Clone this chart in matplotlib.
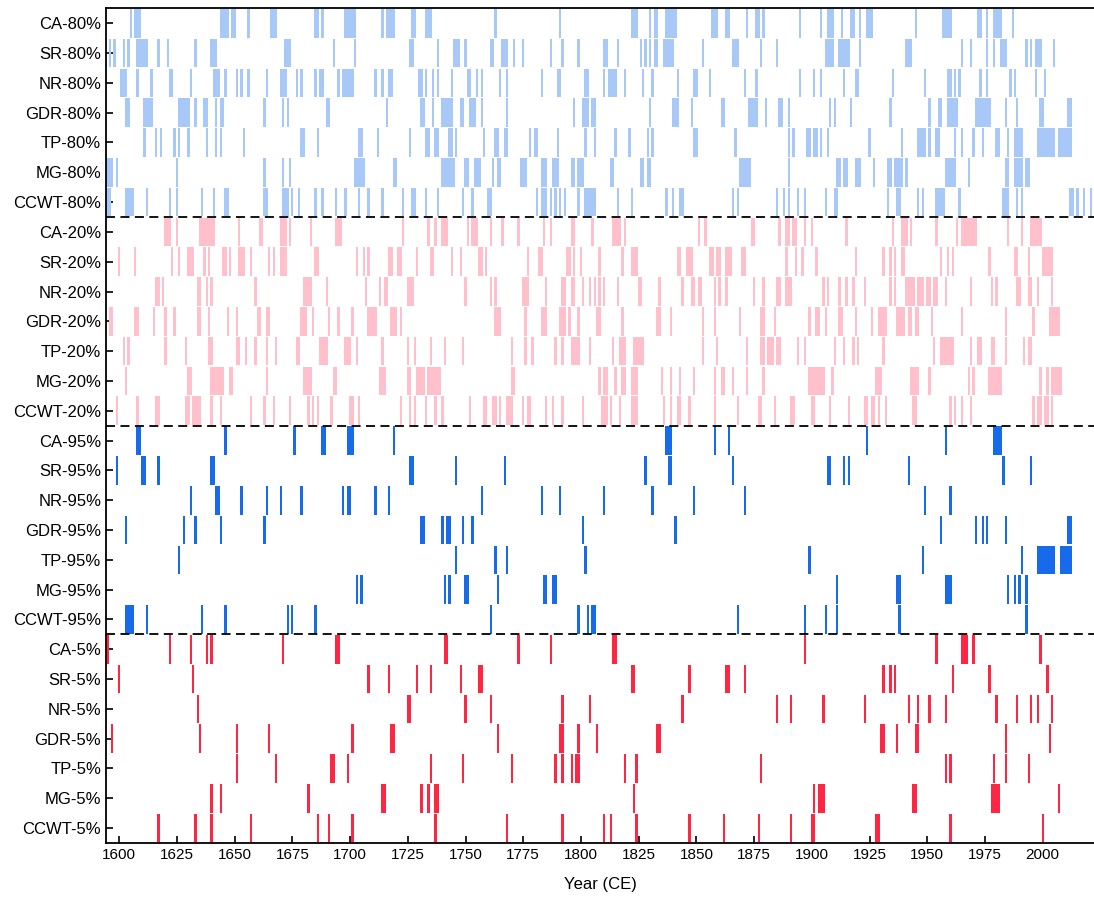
#!/usr/bin/env python3
"""Years falling in the 80th / 20th / 95th / 5th percentile classes for each series."""

import matplotlib
matplotlib.use("Agg")
import matplotlib.pyplot as plt

plt.rcParams["font.family"] = ["Liberation Sans", "DejaVu Sans"]

# ---- 80% ----
ca_80 = [1605, 1607, 1608, 1609, 1644, 1645, 1646, 1647, 1649, 1650, 1656, 1666, 1667, 1668,
         1685, 1686, 1688, 1698, 1699, 1700, 1701, 1702, 1714, 1716, 1717, 1718, 1719, 1727, 1728,
         1733, 1734, 1735, 1763, 1791, 1822, 1823, 1824, 1830, 1832, 1833, 1837, 1838, 1839, 1840,
         1841, 1857, 1858, 1859, 1863, 1864, 1872, 1876, 1877, 1879, 1895, 1904, 1907, 1908, 1909,
         1913, 1917, 1918, 1921, 1924, 1925, 1926, 1945, 1957, 1958, 1959, 1960, 1972, 1973, 1976,
         1979, 1980, 1981, 1982, 1987]
sr_80 = [1596, 1598, 1602, 1604, 1608, 1609, 1610, 1611, 1612, 1617, 1621, 1633, 1640, 1641, 1642,
         1672, 1673, 1674, 1693, 1702, 1726, 1727, 1738, 1745, 1746, 1747, 1750, 1761, 1762, 1766,
         1767, 1768, 1771, 1775, 1787, 1792, 1799, 1810, 1811, 1816, 1826, 1828, 1830, 1832, 1833,
         1836, 1837, 1838, 1839, 1840, 1853, 1866, 1867, 1868, 1878, 1885, 1906, 1907, 1908, 1909,
         1912, 1913, 1914, 1915, 1916, 1921, 1941, 1942, 1943, 1965, 1969, 1976, 1979, 1982, 1983,
         1984, 1993, 1995, 1997, 1998, 1999, 2005]
nr_80 = [1601, 1602, 1603, 1608, 1614, 1622, 1623, 1631, 1641, 1642, 1643, 1646, 1651, 1653, 1656,
         1664, 1670, 1671, 1672, 1677, 1679, 1685, 1687, 1688, 1695, 1697, 1698, 1699, 1700, 1701,
         1711, 1714, 1717, 1718, 1730, 1731, 1733, 1736, 1738, 1744, 1751, 1752, 1755, 1757, 1765,
         1768, 1783, 1790, 1791, 1802, 1803, 1810, 1812, 1813, 1814, 1815, 1819, 1827, 1831, 1842,
         1849, 1850, 1856, 1871, 1876, 1895, 1901, 1904, 1914, 1919, 1920, 1935, 1949, 1959, 1960,
         1962, 1964, 1973, 1976, 1986, 1988, 1997, 2001]
gdr_80 = [1603, 1604, 1611, 1612, 1613, 1614, 1626, 1627, 1628, 1629, 1630, 1633, 1637, 1638, 1642,
          1644, 1645, 1663, 1671, 1673, 1690, 1691, 1716, 1731, 1732, 1736, 1740, 1741, 1742, 1743,
          1744, 1748, 1749, 1752, 1753, 1754, 1757, 1768, 1797, 1801, 1802, 1803, 1805, 1806, 1830,
          1840, 1841, 1842, 1848, 1861, 1862, 1873, 1874, 1875, 1876, 1880, 1886, 1887, 1890, 1908,
          1910, 1917, 1934, 1951, 1955, 1956, 1959, 1960, 1961, 1962, 1963, 1971, 1972, 1973, 1974,
          1975, 1976, 1977, 1984, 1989, 1999, 2000, 2011, 2012]
tp_80 = [1611, 1616, 1618, 1624, 1626, 1630, 1638, 1642, 1644, 1654, 1679, 1680, 1686, 1704, 1705,
         1712, 1726, 1733, 1734, 1737, 1738, 1743, 1744, 1746, 1758, 1763, 1764, 1767, 1768, 1778,
         1780, 1781, 1790, 1802, 1806, 1815, 1821, 1829, 1831, 1849, 1850, 1867, 1890, 1892, 1898,
         1899, 1901, 1902, 1904, 1907, 1925, 1939, 1946, 1947, 1948, 1949, 1951, 1954, 1955, 1962,
         1965, 1970, 1974, 1980, 1981, 1985, 1988, 1989, 1990, 1991, 1998, 1999, 2000, 2001, 2002,
         2003, 2004, 2005, 2007, 2008, 2009, 2010, 2011, 2012]
mg_80 = [1595, 1596, 1597, 1599, 1625, 1663, 1671, 1674, 1702, 1703, 1704, 1705, 1706, 1719, 1720,
         1740, 1741, 1742, 1743, 1744, 1745, 1750, 1751, 1754, 1755, 1756, 1762, 1764, 1765, 1774,
         1775, 1776, 1783, 1784, 1785, 1788, 1789, 1790, 1796, 1797, 1799, 1800, 1801, 1813, 1814,
         1826, 1827, 1829, 1830, 1869, 1870, 1871, 1872, 1873, 1890, 1911, 1912, 1914, 1915, 1919,
         1920, 1921, 1927, 1933, 1934, 1936, 1937, 1938, 1939, 1941, 1958, 1959, 1960, 1961, 1962,
         1968, 1984, 1985, 1988, 1989, 1990, 1991, 1993, 1994]
ccwt_80 = [1595, 1596, 1603, 1604, 1605, 1606, 1612, 1622, 1625, 1636, 1641, 1646, 1647, 1663, 1664,
           1671, 1672, 1673, 1675, 1678, 1685, 1688, 1694, 1698, 1704, 1708, 1714, 1723, 1727, 1728,
           1733, 1738, 1749, 1753, 1760, 1761, 1781, 1783, 1784, 1785, 1787, 1789, 1791, 1793, 1799,
           1802, 1803, 1804, 1805, 1806, 1816, 1822, 1837, 1840, 1843, 1844, 1866, 1868, 1885, 1888,
           1890, 1894, 1897, 1906, 1910, 1911, 1933, 1937, 1938, 1946, 1948, 1954, 1955, 1956, 1957,
           1964, 1983, 1984, 1985, 1989, 1991, 2012, 2013, 2015, 2018, 2021]

# ---- 20% ----
ca_20 = [1620, 1621, 1622, 1625, 1635, 1636, 1637, 1638, 1639, 1640, 1641, 1652, 1661, 1662, 1670,
         1671, 1672, 1674, 1683, 1694, 1695, 1696, 1723, 1734, 1737, 1740, 1741, 1742, 1751, 1753,
         1754, 1755, 1761, 1766, 1773, 1784, 1787, 1796, 1797, 1805, 1814, 1815, 1816, 1817, 1819,
         1851, 1854, 1874, 1875, 1886, 1889, 1890, 1892, 1893, 1897, 1900, 1915, 1935, 1939, 1940,
         1941, 1943, 1954, 1963, 1965, 1966, 1967, 1968, 1969, 1970, 1971, 1985, 1991, 1995, 1996,
         1997, 1998, 1999]
sr_20 = [1600, 1607, 1623, 1626, 1630, 1631, 1632, 1637, 1639, 1645, 1646, 1648, 1652, 1653, 1654,
         1657, 1665, 1667, 1670, 1671, 1672, 1685, 1686, 1703, 1706, 1708, 1717, 1718, 1721, 1722,
         1729, 1735, 1736, 1744, 1748, 1756, 1757, 1759, 1777, 1782, 1783, 1794, 1795, 1797, 1800,
         1808, 1818, 1822, 1823, 1824, 1842, 1843, 1846, 1847, 1848, 1856, 1857, 1859, 1860, 1863,
         1864, 1865, 1870, 1871, 1889, 1893, 1896, 1902, 1919, 1931, 1934, 1936, 1939, 1940, 1956,
         1959, 1961, 1977, 1988, 1989, 1994, 2000, 2001, 2002, 2003, 2004]
nr_20 = [1616, 1617, 1619, 1634, 1635, 1638, 1640, 1659, 1680, 1681, 1682, 1683, 1690, 1707, 1713,
         1715, 1716, 1725, 1726, 1727, 1750, 1761, 1763, 1775, 1776, 1777, 1785, 1792, 1793, 1796,
         1797, 1801, 1804, 1806, 1808, 1810, 1816, 1825, 1826, 1834, 1844, 1848, 1849, 1851, 1852,
         1858, 1860, 1863, 1875, 1879, 1885, 1886, 1889, 1890, 1891, 1905, 1907, 1912, 1915, 1918,
         1923, 1934, 1936, 1941, 1942, 1943, 1944, 1946, 1947, 1948, 1950, 1951, 1953, 1954, 1958,
         1969, 1978, 1980, 1989, 1990, 1994, 1995, 1998, 2004]
gdr_20 = [1596, 1597, 1607, 1608, 1615, 1620, 1624, 1634, 1635, 1639, 1647, 1651, 1660, 1661, 1664,
          1665, 1679, 1680, 1681, 1684, 1691, 1695, 1701, 1708, 1709, 1710, 1711, 1718, 1719, 1720,
          1722, 1763, 1764, 1765, 1776, 1783, 1784, 1785, 1791, 1792, 1793, 1795, 1799, 1807, 1808,
          1818, 1833, 1834, 1839, 1853, 1858, 1869, 1878, 1879, 1884, 1899, 1902, 1903, 1906, 1912,
          1913, 1919, 1926, 1929, 1930, 1931, 1932, 1937, 1938, 1939, 1940, 1942, 1943, 1945, 1946,
          1952, 1965, 1984, 1996, 2003, 2004, 2005, 2006, 2007]
tp_20 = [1602, 1604, 1620, 1629, 1639, 1640, 1651, 1652, 1655, 1659, 1664, 1668, 1677, 1678, 1687,
         1688, 1689, 1690, 1698, 1699, 1700, 1703, 1714, 1725, 1728, 1735, 1741, 1749, 1770, 1776,
         1779, 1789, 1792, 1796, 1797, 1798, 1799, 1804, 1814, 1817, 1818, 1819, 1823, 1824, 1825,
         1826, 1827, 1853, 1859, 1872, 1878, 1879, 1881, 1882, 1883, 1885, 1886, 1894, 1897, 1910,
         1914, 1918, 1920, 1931, 1953, 1956, 1957, 1958, 1959, 1960, 1961, 1969, 1972, 1973, 1978,
         1979, 1984, 1992, 1994, 1995]
mg_20 = [1603, 1630, 1631, 1640, 1641, 1642, 1643, 1644, 1645, 1648, 1649, 1664, 1680, 1681, 1682,
         1683, 1693, 1694, 1713, 1714, 1715, 1725, 1726, 1729, 1730, 1731, 1732, 1734, 1735, 1736,
         1737, 1738, 1739, 1770, 1771, 1808, 1810, 1811, 1815, 1818, 1819, 1822, 1823, 1824, 1835,
         1839, 1843, 1849, 1858, 1861, 1862, 1866, 1872, 1879, 1899, 1900, 1901, 1902, 1903, 1904,
         1905, 1909, 1928, 1929, 1930, 1943, 1944, 1945, 1946, 1951, 1968, 1970, 1977, 1978, 1979,
         1980, 1981, 1982, 1999, 2002, 2004, 2005, 2006, 2007, 2008]
ccwt_20 = [1599, 1608, 1616, 1617, 1629, 1630, 1632, 1633, 1634, 1635, 1640, 1644, 1657, 1663, 1667,
           1674, 1682, 1684, 1686, 1692, 1700, 1701, 1704, 1722, 1726, 1728, 1733, 1737, 1740, 1752,
           1758, 1759, 1762, 1763, 1765, 1768, 1769, 1770, 1775, 1777, 1778, 1785, 1788, 1792, 1801,
           1809, 1810, 1811, 1813, 1817, 1822, 1823, 1824, 1836, 1839, 1842, 1843, 1847, 1858, 1868,
           1877, 1878, 1884, 1891, 1892, 1900, 1901, 1908, 1916, 1923, 1924, 1926, 1927, 1929, 1932,
           1944, 1945, 1960, 1962, 1965, 1969, 1996, 1998, 1999, 2001, 2002, 2004]

# ---- 95% ----
ca_95 = [1608, 1609, 1646, 1676, 1688, 1689, 1699, 1700, 1701, 1719, 1837, 1838, 1839, 1858, 1864,
         1924, 1958, 1979, 1980, 1981, 1982]
sr_95 = [1599, 1610, 1611, 1617, 1640, 1641, 1726, 1727, 1746, 1767, 1828, 1838, 1839, 1866, 1907,
         1908, 1914, 1916, 1942, 1983, 1995]
nr_95 = [1631, 1642, 1643, 1653, 1664, 1670, 1679, 1697, 1699, 1700, 1711, 1717, 1757, 1783, 1791,
         1810, 1831, 1849, 1871, 1949, 1960]
gdr_95 = [1603, 1628, 1633, 1644, 1663, 1731, 1732, 1740, 1742, 1743, 1749, 1753, 1801, 1841, 1956,
          1971, 1974, 1976, 1984, 2011, 2012]
tp_95 = [1626, 1746, 1763, 1768, 1802, 1899, 1948, 1991, 1998, 1999, 2000, 2001, 2002, 2003, 2004,
         2005, 2008, 2009, 2010, 2011, 2012]
mg_95 = [1703, 1705, 1741, 1743, 1750, 1751, 1764, 1784, 1785, 1788, 1789, 1911, 1937, 1938, 1958,
         1959, 1960, 1985, 1988, 1990, 1993]
ccwt_95 = [1603, 1604, 1605, 1606, 1612, 1636, 1646, 1673, 1675, 1685, 1761, 1799, 1803, 1805, 1806,
           1868, 1897, 1906, 1911, 1938, 1993]

# ---- 5% ----
ca_5 = [1595, 1622, 1631, 1638, 1640, 1671, 1694, 1695, 1741, 1742, 1773, 1787, 1814, 1815, 1897,
        1954, 1965, 1966, 1967, 1970, 1999]
sr_5 = [1600, 1632, 1708, 1717, 1729, 1735, 1748, 1756, 1757, 1822, 1823, 1847, 1863, 1864, 1871,
        1931, 1934, 1936, 1961, 1977, 2002]
nr_5 = [1634, 1725, 1726, 1750, 1761, 1792, 1804, 1844, 1885, 1891, 1905, 1923, 1942, 1946, 1951,
        1958, 1980, 1989, 1995, 1998, 2004]
gdr_5 = [1597, 1635, 1651, 1665, 1701, 1718, 1719, 1764, 1791, 1792, 1799, 1807, 1833, 1834, 1930,
         1931, 1937, 1945, 1946, 1984, 2003]
tp_5 = [1651, 1668, 1692, 1693, 1699, 1735, 1749, 1770, 1789, 1792, 1796, 1798, 1799, 1819, 1824,
        1878, 1958, 1960, 1979, 1984, 1994]
mg_5 = [1640, 1644, 1682, 1714, 1715, 1731, 1734, 1737, 1738, 1823, 1901, 1903, 1904, 1905, 1944,
        1945, 1978, 1979, 1980, 1981, 2007]
ccwt_5 = [1617, 1633, 1640, 1657, 1686, 1691, 1701, 1737, 1768, 1792, 1810, 1813, 1824, 1847, 1862,
          1877, 1891, 1900, 1901, 1928, 1929, 1960, 2000]

series = ["CA", "SR", "NR", "GDR", "TP", "MG", "CCWT"]
levels = ["80%", "20%", "95%", "5%"]
level_colors = ["#a8c8f8", "#ffc0cb", "#176bea", "#ff2644"]
rows = [
    [ca_80, sr_80, nr_80, gdr_80, tp_80, mg_80, ccwt_80],
    [ca_20, sr_20, nr_20, gdr_20, tp_20, mg_20, ccwt_20],
    [ca_95, sr_95, nr_95, gdr_95, tp_95, mg_95, ccwt_95],
    [ca_5, sr_5, nr_5, gdr_5, tp_5, mg_5, ccwt_5],
]

fig = plt.figure(figsize=(10.94, 8.97), dpi=100)
ax = fig.add_axes([0.0969, 0.0602, 0.9031, 0.9305])

labels = []
i = 0
for lev, color, group in zip(levels, level_colors, rows):
    for name, years in zip(series, group):
        ax.bar(years, 0.96, bottom=i - 0.48, width=1.0, color=color,
               linewidth=0, align="center", zorder=2)
        labels.append(f"{name}-{lev}")
        i += 1

# group separators
for y in (6.5, 13.5, 20.5):
    ax.axhline(y, color="black", linewidth=1.3, linestyle=(0, (5, 3)), zorder=3)

ax.set_ylim(27.5, -0.5)
ax.set_xlim(1594.3, 2022.2)
ax.set_yticks(range(len(labels)))
ax.set_yticklabels(labels, fontsize=12)
ax.set_xticks(range(1600, 2001, 25))
ax.tick_params(axis="x", labelsize=11, direction="in", length=5, width=1.2)
ax.tick_params(axis="y", direction="in", length=5, width=1.2)
ax.set_xlabel("Year (CE)", fontsize=12, labelpad=11)
for side in ("left", "bottom", "top"):
    ax.spines[side].set_linewidth(1.3)
ax.spines["right"].set_visible(False)

fig.savefig("out.png", dpi=100)
